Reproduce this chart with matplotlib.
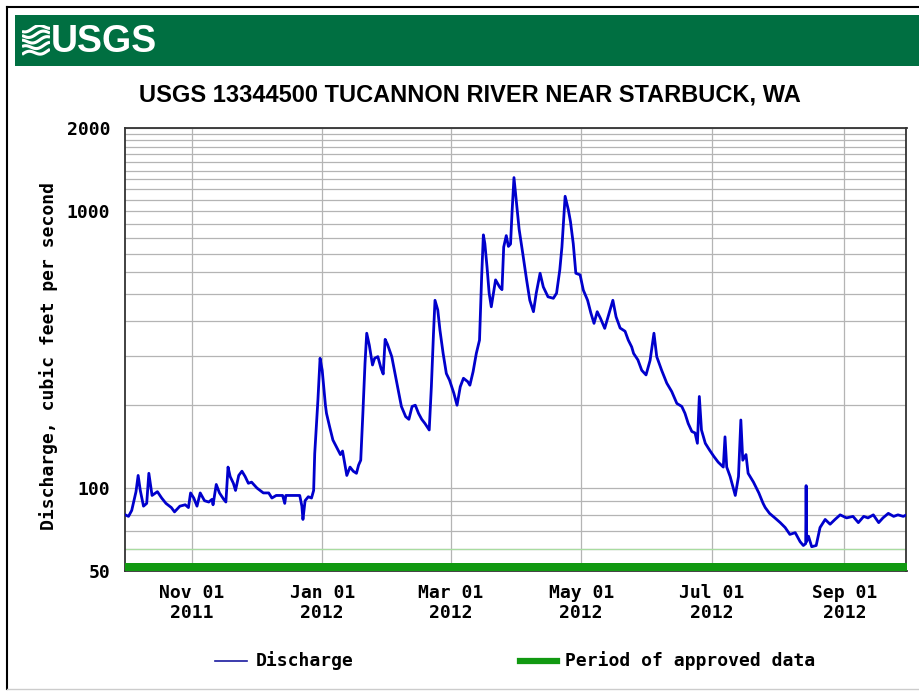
import matplotlib
matplotlib.use('Agg')
import matplotlib.pyplot as plt
import matplotlib.dates as mdates
import matplotlib.transforms as mtransforms
from matplotlib.lines import Line2D
from matplotlib.patches import Rectangle
import numpy as np
import pandas as pd

# water year 2012
wy_start = pd.Timestamp('2011-10-01')
wy_end = pd.Timestamp('2012-09-30')
approved_start = pd.Timestamp('2011-10-01')
approved_end = pd.Timestamp('2012-09-30')

# day of water year / discharge (cfs)
day = [0, 1.5, 3, 5, 6, 7, 8.5, 10, 11, 12, 12.5, 15, 17, 19, 21.5, 23, 25.5, 28, 29.5, 30.5,
       32, 33.5, 35, 37, 39, 40.5, 41, 42.5, 44, 46, 47, 48, 49, 50.5, 51.5, 53, 54.5, 56, 57.5, 59,
       61.5, 64.5, 67, 68.5, 70.5, 73.5, 74.5, 75, 78.5, 81.5, 82.5, 83, 84, 85.5, 87, 88, 88.5, 89.5, 90, 91,
       92, 93.5, 94, 95.5, 97, 99, 100.5, 101.5, 102.5, 103.5, 105, 106.5, 108, 109, 110, 111, 112, 112.8,
       114, 115.5, 116.5, 118, 119.5, 120.5, 121.4, 122.5,
       124.5, 126, 127.5, 129, 131, 132.5, 134, 135.5, 137, 138.5, 140, 142, 143, 144, 144.7, 146, 147, 148.5,
       150, 151.5,
       153.5, 155, 156.5, 158, 160, 161, 162.5, 164, 165.5, 166.5, 167.3, 168, 169, 170, 171, 172, 173, 175,
       176, 176.8, 178, 179, 180, 180.7, 181.6, 182.9,
       184, 185.7, 187.5, 189, 190.7, 192, 193.8, 195.3, 197.5, 200, 201.5, 203, 204, 205.5, 207, 208, 209.3,
       210.5, 212.5,
       214, 216, 217.5, 219, 220.5, 222, 224, 226.5, 227.8, 229.3, 231.2, 233.5, 235, 236.6, 237.5, 239.5,
       241.3, 243.3,
       245.2, 247, 248.3, 250.6, 253, 255.3, 257.7, 260, 261.5, 263, 264.7, 266.2, 267.3, 268.2, 269.2, 271, 273,
       275, 277, 279.4, 280.2, 281, 282.6, 285, 286.5, 287.6, 288.5, 290, 291, 293.5, 296, 298, 299, 301, 303.5,
       306, 308.3, 310.5, 313, 315.3, 316.8, 317.9, 318.1, 318.3, 319.2, 320.7, 322.8, 324.6, 327, 329.3, 331.6, 334,
       337, 340, 342.5, 345, 347, 349.5, 352, 354, 356.5, 359, 361, 363.5, 365]
discharge = [80, 79, 83, 97, 111, 98, 86, 88, 113, 100, 94, 97, 92, 88, 85, 82, 86, 87, 85, 96,
             92, 86, 96, 90, 89, 91, 87, 103, 96, 91, 89, 119, 110, 104, 98, 111, 115, 110, 104, 105,
             100, 96, 96, 92, 94, 94, 88, 94, 94, 94, 86, 77, 90, 93, 92, 98, 133, 181, 208, 294,
             266, 199, 186, 166, 149, 139, 132, 136, 123, 111, 119, 115, 113, 121, 126, 186, 282, 362,
             328, 278, 294, 298, 270, 258, 344, 330,
             298, 259, 226, 197, 181, 177, 197, 199, 186, 177, 171, 162, 232, 362, 476, 439, 372, 306,
             259, 245,
             220, 199, 232, 249, 242, 235, 263, 306, 342, 580, 820, 762, 629, 505, 451, 505, 564, 530,
             520, 741, 815, 745, 760, 990, 1320, 1048,
             860, 703, 564, 476, 433, 505, 596, 532, 490, 484, 505, 612, 741, 1130, 1010, 915, 762,
             596, 588,
             518, 476, 429, 393, 433, 410, 377, 439, 476, 415, 378, 368, 342, 323, 306, 290,
             266, 256,
             289, 362, 298, 266, 239, 223, 202, 197, 186, 171, 160, 158, 145, 214, 162, 145, 137,
             130, 124, 119, 153, 119, 110, 94, 110, 176, 126, 132, 113, 105, 96, 88, 85, 81, 78,
             75, 72, 68, 69, 64, 62, 63, 102, 64, 67, 61.4, 62, 72, 77, 74, 77, 80,
             78, 79, 75, 79, 78, 80, 75, 78, 81, 79, 80, 79, 80]

tick_dates = ['2011-11-01', '2012-01-01', '2012-03-01', '2012-05-01', '2012-07-01', '2012-09-01']
tick_labels = ['Nov 01\n2011', 'Jan 01\n2012', 'Mar 01\n2012', 'May 01\n2012', 'Jul 01\n2012', 'Sep 01\n2012']
y_ticks = [50, 100, 1000, 2000]
y_grid = [60, 70, 80, 90, 200, 300, 400, 500, 600, 700, 800, 900,
          1100, 1200, 1300, 1400, 1500, 1600, 1700, 1800, 1900]

title = 'USGS 13344500 TUCANNON RIVER NEAR STARBUCK, WA'
ylabel = 'Discharge, cubic feet per second'

W, H = 920, 692
mono = dict(family='DejaVu Sans Mono', weight='bold', size=13)
sans = ['Liberation Sans', 'DejaVu Sans']

fig = plt.figure(figsize=(W / 100, H / 100), dpi=100)
fig.patch.set_facecolor('white')

def fx(px):
    return px / W

def fy(py):
    return 1 - py / H

# page frame
fig.add_artist(Line2D([fx(7), fx(7)], [fy(7), fy(689)], color='black', lw=1.5))
fig.add_artist(Line2D([fx(7), 1], [fy(7), fy(7)], color='black', lw=1.5))
fig.add_artist(Line2D([fx(7), 1], [fy(689), fy(689)], color='#cccccc', lw=1))

# green banner with logo
banner = Rectangle((fx(15), fy(66)), 1 - fx(15), fy(15) - fy(66),
                   transform=fig.transFigure, color='#006f41', lw=0, zorder=-1)
fig.add_artist(banner)
fig.text(fx(51), fy(42), 'USGS', color='white', fontsize=27, weight='bold',
         family=sans, va='center', ha='left')
logo = fig.add_axes([fx(22), fy(57), fx(28), fy(25) - fy(57)])
logo.set_zorder(2)
logo.set_axis_off()
logo.set_xlim(0, 1)
logo.set_ylim(0, 1)
t = np.linspace(0, 1, 60)
for k in range(5):
    base = 0.08 + k * 0.19
    logo.plot(t, base + 0.07 * np.sin(2 * np.pi * (t * 1.1 + k * 0.15)) + 0.12 * t,
              color='white', lw=2.2, solid_capstyle='butt')

fig.text(fx(470), fy(95), title, ha='center', va='center', fontsize=17, weight='bold',
         family=sans)

ax = fig.add_axes([fx(125.3), fy(571.4), fx(906.5) - fx(125.3), fy(127.6) - fy(571.4)])
dates = wy_start + pd.to_timedelta(day, unit='D')

ax.set_yscale('log')
ax.set_ylim(50, 2000)
ax.set_xlim(wy_start, wy_end)

ax.set_yticks(y_ticks)
ax.set_yticklabels([str(v) for v in y_ticks])
ax.set_yticks(y_grid, minor=True)
ax.yaxis.set_minor_formatter(matplotlib.ticker.NullFormatter())
ax.set_xticks(pd.to_datetime(tick_dates))
ax.set_xticklabels(tick_labels, linespacing=1.15)

ax.grid(True, which='both', axis='y', color='#b4b4b4', lw=0.9)
ax.grid(True, which='major', axis='x', color='#b4b4b4', lw=0.9)
ax.axhline(60, color='#a8dca0', lw=0.9, zorder=1.5)
ax.set_axisbelow(True)

ax.tick_params(which='both', length=0)
ax.tick_params(axis='y', pad=11)
ax.tick_params(axis='x', pad=9)
for lab in ax.get_xticklabels() + ax.get_yticklabels():
    lab.set_fontproperties(matplotlib.font_manager.FontProperties(**mono))

for s in ax.spines.values():
    s.set_color('#333333')
    s.set_linewidth(1.3)

ax.plot(dates, discharge, color='#0000cc', lw=2.0, zorder=3)

# approved data bar along the bottom
trans = mtransforms.blended_transform_factory(ax.transData, ax.transAxes)
x0 = mdates.date2num(approved_start)
x1 = mdates.date2num(approved_end)
ax.add_patch(Rectangle((x0, 0), x1 - x0, 0.018, transform=trans, color='#119911',
                       lw=0, zorder=4, clip_on=False))

fig.text(fx(49), fy(356), ylabel, rotation=90, ha='center', va='center', **mono)

# legend
fig.add_artist(Line2D([fx(215), fx(247)], [fy(661), fy(661)], color='#1a1aa0', lw=1.2))
fig.text(fx(256), fy(661), 'Discharge', ha='left', va='center', **mono)
fig.add_artist(Line2D([fx(520), fx(557)], [fy(661), fy(661)], color='#119911', lw=4.5))
fig.text(fx(565), fy(661), 'Period of approved data', ha='left', va='center', **mono)

fig.savefig('out.png', dpi=100, facecolor='white')
